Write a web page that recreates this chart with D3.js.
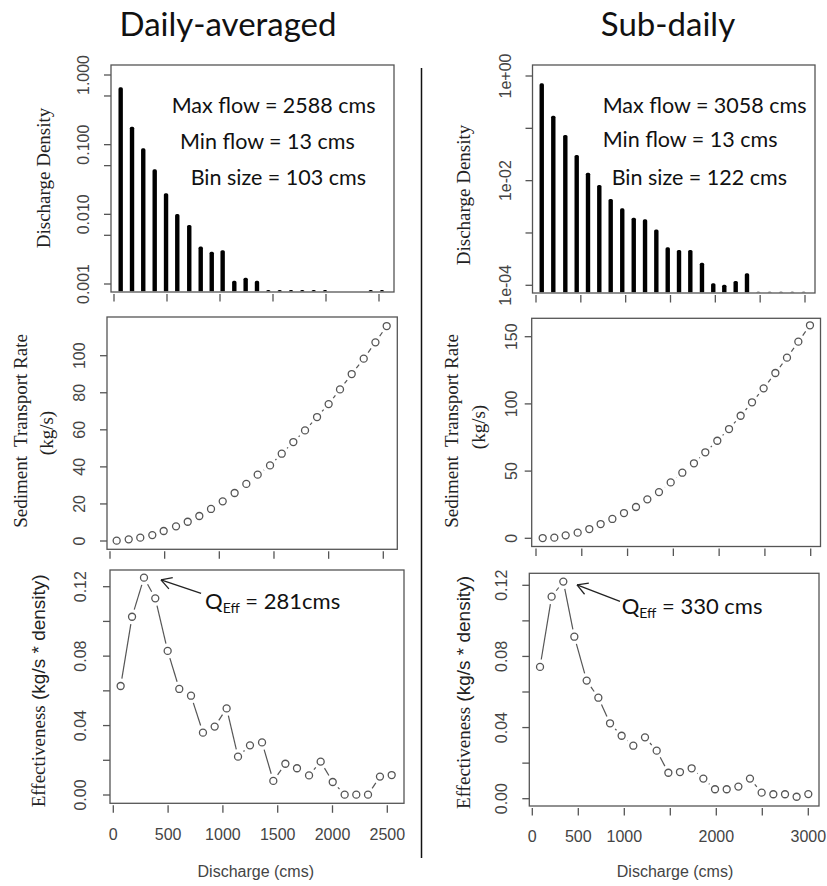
<!DOCTYPE html>
<html><head><meta charset="utf-8">
<script src="https://cdn.jsdelivr.net/npm/d3@7"></script>
<style>body{margin:0;background:#fff}</style>
</head><body><svg id="c" width="827" height="886"></svg>
<script>
// ---------------- data ----------------
const dailyBinCentres = [63,170,276,384,491,597,710,818,922,1025,1135,1242,1349,1456,1563,1670,1776,1884,1991,2422,2528];
const dailyDensity = [0.665,0.181,0.0887,0.0443,0.0201,0.0101,0.00705,0.00345,0.00291,0.00305,0.00111,0.00123,0.00111,0.00082,0.00082,0.00082,0.00082,0.00082,0.00082,0.00082,0.00082];
const subBinCentres = [64,193,327,454,580,706,833,962,1090,1216,1342,1469,1595,1721,1851,1977,2100,2227,2353,2479,2606,2732,2858,2985];
const subDensity = [0.724,0.1745,0.0746,0.0309,0.0142,0.00826,0.00447,0.00296,0.00196,0.00182,0.00117,0.000532,0.000473,0.000473,0.000271,0.000110,0.000103,0.000121,0.000170,0.0000755,0.0000755,0.0000755,0.0000755,0.0000755];

const dailyQ = [61,171,277,387,491,604,711,817,924,1031,1140,1247,1351,1464,1571,1677,1784,1894,2000,2104,2211,2321,2428,2531];
const dailySed = [0.2,0.9,1.8,3.2,5.4,7.9,10.4,13.5,17.3,21.4,25.9,30.8,35.8,40.8,47.1,53.4,59.7,66.9,73.9,81.8,90.1,98.4,107.2,116.0];
const subQ = [73,200,324,455,582,706,834,961,1092,1216,1343,1471,1598,1725,1849,1980,2108,2235,2359,2486,2614,2741,2865,2992];
const subSed = [0.2,0.5,2.2,4.2,6.9,10.6,14.4,18.8,23.3,29.0,34.4,41.6,48.8,55.8,64.0,72.6,81.3,91.2,101.2,111.6,123.0,134.4,146.3,158.5];

const dailyEffQ = [67,171,280,383,496,602,709,818,925,1034,1138,1247,1357,1460,1570,1676,1786,1892,2002,2111,2217,2324,2433,2540];
const dailyEff = [0.0628,0.1027,0.1252,0.1133,0.0830,0.0611,0.0572,0.0359,0.0394,0.0499,0.0221,0.0286,0.0303,0.0081,0.0180,0.0154,0.0113,0.0192,0.0075,0.0002,0.0002,0.0002,0.0106,0.0115];
const subEffQ = [84,210,337,457,591,718,845,971,1098,1225,1352,1479,1605,1732,1859,1986,2113,2240,2366,2493,2620,2747,2873,3000];
const subEff = [0.0741,0.1136,0.1221,0.0911,0.0664,0.0568,0.0424,0.0354,0.0298,0.0345,0.0270,0.0146,0.0150,0.0171,0.0113,0.0053,0.0053,0.0068,0.0113,0.0034,0.0025,0.0025,0.0011,0.0026];

// ticks
const dailyXTicks = [0,500,1000,1500,2000,2500];
const subXTicks = [0,500,1000,1500,2000,2500,3000];
const dailyXLabels = [0,500,1000,1500,2000,2500];
const subXLabels = [0,500,1000,2000,3000];
const dailyDensTicks = [1,0.5,0.1,0.05,0.01,0.005,0.001];
const dailyDensLabels = [[1,"1.000"],[0.1,"0.100"],[0.01,"0.010"],[0.001,"0.001"]];
const subDensTicks = [1,0.1,0.01,0.001,0.0001];
const subDensLabels = [[1,"1e+00"],[0.01,"1e-02"],[0.0001,"1e-04"]];
const dailySedTicks = [0,20,40,60,80,100];
const subSedTicks = [0,50,100,150];
const effTicks = [0,0.02,0.04,0.06,0.08,0.10,0.12];
const effLabels = [[0,"0.00"],[0.04,"0.04"],[0.08,"0.08"],[0.12,"0.12"]];

const titles = ["Daily-averaged","Sub-daily"];
const dailyNotes = ["Max flow = 2588 cms","Min flow = 13 cms","Bin size = 103 cms"];
const subNotes = ["Max flow = 3058 cms","Min flow = 13 cms","Bin size = 122 cms"];
const dailyQeff = " = 281cms", subQeff = " = 330 cms";
// arrow tip / tail in data units
const dailyArrow = {tip:[435,0.1239], tail:[801,0.1161]};
const subArrow = {tip:[486,0.1202], tail:[953,0.1110]};

// ---------------- drawing ----------------
const svg = d3.select("#c");
const SANS = "'Liberation Sans', Arial, sans-serif";
const SERIF = "'Liberation Serif', 'Times New Roman', serif";
const NOTE = "Lato, 'Open Sans', sans-serif";
const GREY = "#555";

function box(b){
  svg.append("rect").attr("x",b[0]).attr("y",b[1]).attr("width",b[2]-b[0]).attr("height",b[3]-b[1])
    .attr("fill","none").attr("stroke",GREY).attr("stroke-width",1.3);
}
function xAxis(x, b, ticks, labels, labelY){
  const g = svg.append("g");
  ticks.forEach(t=>{
    g.append("line").attr("x1",x(t)).attr("x2",x(t)).attr("y1",b[3]+2).attr("y2",b[3]+9.5)
      .attr("stroke",GREY).attr("stroke-width",1.3);
  });
  if(labels) labels.forEach(t=>{
    g.append("text").attr("x",x(t)).attr("y",labelY).attr("text-anchor","middle")
      .attr("font-family",SANS).attr("font-size",16).attr("fill","#444").text(t);
  });
}
function yAxis(y, b, ticks, labels, labelX){
  const g = svg.append("g");
  ticks.forEach(t=>{
    g.append("line").attr("x1",b[0]-7).attr("x2",b[0]).attr("y1",y(t)).attr("y2",y(t))
      .attr("stroke",GREY).attr("stroke-width",1.3);
  });
  labels.forEach(([v,s])=>{
    g.append("text").attr("transform",`translate(${labelX},${y(v)}) rotate(-90)`).attr("text-anchor","middle")
      .attr("font-family",SANS).attr("font-size",16).attr("fill","#444").text(s);
  });
}
function vtext(x, yc, size, family){
  return svg.append("text").attr("transform",`translate(${x},${yc}) rotate(-90)`).attr("text-anchor","middle")
    .attr("font-family",family).attr("font-size",size).attr("fill","#222");
}
function bars(x, y, b, xs, vs){
  const clip = "clip"+Math.round(b[0]);
  svg.append("clipPath").attr("id",clip).append("rect").attr("x",b[0]).attr("y",b[1]).attr("width",b[2]-b[0]).attr("height",b[3]-b[1]-0.7);
  svg.append("g").attr("clip-path",`url(#${clip})`).selectAll("rect").data(xs).join("rect")
    .attr("x",(d)=>x(d)-2.2).attr("width",4.4)
    .attr("y",(d,i)=>y(vs[i])).attr("height",(d,i)=>b[3]-y(vs[i])+2)
    .attr("rx",1.6).attr("fill","#000");
}
function points(x, y, xs, vs){
  const pts = xs.map((d,i)=>[x(d), y(vs[i])]);
  const gap = 7.5;
  const g = svg.append("g");
  for(let i=0;i<pts.length-1;i++){
    const [x1,y1]=pts[i],[x2,y2]=pts[i+1];
    const L = Math.hypot(x2-x1,y2-y1);
    if(L>2*gap){
      const ux=(x2-x1)/L, uy=(y2-y1)/L;
      g.append("line").attr("x1",x1+ux*gap).attr("y1",y1+uy*gap).attr("x2",x2-ux*gap).attr("y2",y2-uy*gap)
        .attr("stroke",GREY).attr("stroke-width",1.2);
    }
  }
  g.selectAll("circle").data(pts).join("circle").attr("cx",d=>d[0]).attr("cy",d=>d[1]).attr("r",3.5)
    .attr("fill","none").attr("stroke",GREY).attr("stroke-width",1.3);
}
function arrow(x, y, a){
  const tip=[x(a.tip[0]),y(a.tip[1])], tail=[x(a.tail[0]),y(a.tail[1])];
  svg.append("line").attr("x1",tail[0]).attr("y1",tail[1]).attr("x2",tip[0]).attr("y2",tip[1]).attr("stroke","#222").attr("stroke-width",1.3);
  const ang = Math.atan2(tail[1]-tip[1], tail[0]-tip[0]);
  [Math.PI/6,-Math.PI/6].forEach(d=>{
    svg.append("line").attr("x1",tip[0]).attr("y1",tip[1])
      .attr("x2",tip[0]+12*Math.cos(ang+d)).attr("y2",tip[1]+12*Math.sin(ang+d))
      .attr("stroke","#222").attr("stroke-width",1.3);
  });
}
function notes(list, pos){
  list.forEach((s,i)=>{
    svg.append("text").attr("x",pos[i][0]).attr("y",pos[i][1]).attr("font-family",NOTE)
      .attr("font-size",21.5).attr("fill","#111").text(s);
  });
}
function qeff(x0, y0, rest){
  const t = svg.append("text").attr("x",x0).attr("y",y0).attr("font-family",NOTE).attr("font-size",22).attr("fill","#111");
  t.append("tspan").text("Q");
  t.append("tspan").attr("font-size",14).attr("dy",4).text("Eff");
  t.append("tspan").attr("dy",-4).text(rest);
}

// titles
svg.append("text").attr("x",228).attr("y",36).attr("text-anchor","middle").attr("font-family",NOTE).attr("font-size",33).attr("fill","#111").text(titles[0]);
svg.append("text").attr("x",668).attr("y",36).attr("text-anchor","middle").attr("font-family",NOTE).attr("font-size",33).attr("fill","#111").text(titles[1]);

// divider
svg.append("line").attr("x1",421.5).attr("x2",421.5).attr("y1",68).attr("y2",858).attr("stroke","#111").attr("stroke-width",1.5);

// ---- Panel 1: daily density
{
  const b=[111,65,394,292];
  const x=d3.scaleLinear().domain([0,2500]).range([114,379]);
  const y=d3.scaleLog().domain([1,0.001]).range([75,284]);
  bars(x,y,b,dailyBinCentres,dailyDensity);
  box(b); xAxis(x,b,dailyXTicks,null); yAxis(y,b,dailyDensTicks,dailyDensLabels,88.5);
  vtext(49.5,178,19,SERIF).text("Discharge Density");
  notes(dailyNotes,[[171.7,113.3],[180,149.3],[190.7,185]]);
}
// ---- Panel 4: sub-daily density
{
  const b=[532.5,65,815,293];
  const x=d3.scaleLinear().domain([0,3000]).range([536,805]);
  const y=d3.scaleLog().domain([1,0.0001]).range([76,285.3]);
  bars(x,y,b,subBinCentres,subDensity);
  box(b); xAxis(x,b,subXTicks,null); yAxis(y,b,subDensTicks,subDensLabels,510.7);
  vtext(470,195,19,SERIF).text("Discharge Density");
  notes(subNotes,[[602.7,113.3],[602.7,147.3],[611.7,185]]);
}
// ---- Panel 2: daily sediment
{
  const b=[107,317,397.3,549.3];
  const x=d3.scaleLinear().domain([0,2500]).range([110,383.3]);
  const y=d3.scaleLinear().domain([0,100]).range([541,355.7]);
  points(x,y,dailyQ,dailySed);
  box(b); xAxis(x,b,dailyXTicks,null); yAxis(y,b,dailySedTicks,dailySedTicks.map(v=>[v,String(v)]),85);
  vtext(26.5,431,19,SERIF).text("Sediment\u00a0 Transport Rate");
  vtext(53,433,19,SERIF).text("(kg/s)");
}
// ---- Panel 5: sub-daily sediment
{
  const b=[531.7,318.3,820.5,546.5];
  const x=d3.scaleLinear().domain([0,3000]).range([536,810.7]);
  const y=d3.scaleLinear().domain([0,150]).range([538.3,336.7]);
  points(x,y,subQ,subSed);
  box(b); xAxis(x,b,subXTicks,null); yAxis(y,b,subSedTicks,subSedTicks.map(v=>[v,String(v)]),516.7);
  vtext(458,431,19,SERIF).text("Sediment\u00a0 Transport Rate");
  vtext(485,427,19,SERIF).text("(kg/s)");
}
// ---- Panel 3: daily effectiveness
{
  const b=[110,570,404,803.3];
  const x=d3.scaleLinear().domain([0,2500]).range([113.3,387.3]);
  const y=d3.scaleLinear().domain([0,0.12]).range([795,586.7]);
  points(x,y,dailyEffQ,dailyEff);
  box(b); xAxis(x,b,dailyXTicks,dailyXLabels,840); yAxis(y,b,effTicks,effLabels,86);
  const t=vtext(44.7,690.8,19,SERIF);
  t.append("tspan").text("Effectiveness");
  t.append("tspan").attr("font-family",SANS).text(" (kg/s * density)");
  arrow(x,y,dailyArrow);
  qeff(205,609.3,dailyQeff);
  svg.append("text").attr("x",255.8).attr("y",876.5).attr("text-anchor","middle").attr("font-family",SANS).attr("font-size",16).attr("fill","#444").text("Discharge (cms)");
}
// ---- Panel 6: sub-daily effectiveness
{
  const b=[529.3,573.3,819,806];
  const x=d3.scaleLinear().domain([0,3000]).range([532.3,808.3]);
  const y=d3.scaleLinear().domain([0,0.12]).range([798.7,585.3]);
  points(x,y,subEffQ,subEff);
  box(b); xAxis(x,b,subXTicks,subXLabels,841.7); yAxis(y,b,effTicks,effLabels,506.7);
  const t=vtext(469.5,692.5,19,SERIF);
  t.append("tspan").text("Effectiveness");
  t.append("tspan").attr("font-family",SANS).text(" (kg/s * density)");
  arrow(x,y,subArrow);
  qeff(621.7,614,subQeff);
  svg.append("text").attr("x",675).attr("y",877).attr("text-anchor","middle").attr("font-family",SANS).attr("font-size",16).attr("fill","#444").text("Discharge (cms)");
}
</script></body></html>
